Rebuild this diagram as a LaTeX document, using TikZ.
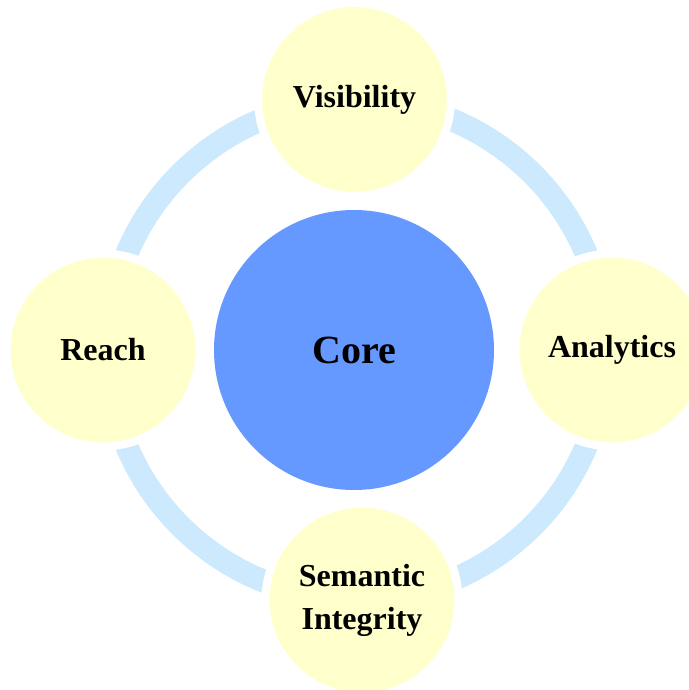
\documentclass[tikz,border=0pt]{standalone}
\usepackage{fontspec}
\setmainfont{Liberation Serif}
\definecolor{ringblue}{HTML}{CCE9FD}
\definecolor{petal}{HTML}{FFFFCC}
\definecolor{coreblue}{HTML}{6699FF}
\begin{document}
\begin{tikzpicture}[x=0.5pt,y=-0.5pt,
  petalnode/.style={circle, fill=petal, draw=white, line width=4pt,
    minimum size=96.5pt, inner sep=0pt, align=center,
    font=\fontsize{16}{21.5}\selectfont\bfseries},
  corenode/.style={circle, fill=coreblue, minimum size=140pt, inner sep=0pt,
    font=\fontsize{20}{24}\selectfont\bfseries},
  ringline/.style={draw=ringblue, line width=11.5pt}]
  \clip (0,0) rectangle (689,690);
  \useasboundingbox (0,0) rectangle (689,690);
  \node[corenode] (core) at (354,350) {Core};
  \coordinate (hub) at (356.5,350);
  \draw[ringline] (hub) circle[radius=124.5pt];
  \node[petalnode] (vis) at (354.5,99.5) {Visibility};
  \node[petalnode] (ana) at (612,350) {Analytics};
  \node[petalnode] (reach) at (103,350) {Reach};
  \node[petalnode] (sem) at (362,600) {Semantic\\Integrity};
\end{tikzpicture}
\end{document}
